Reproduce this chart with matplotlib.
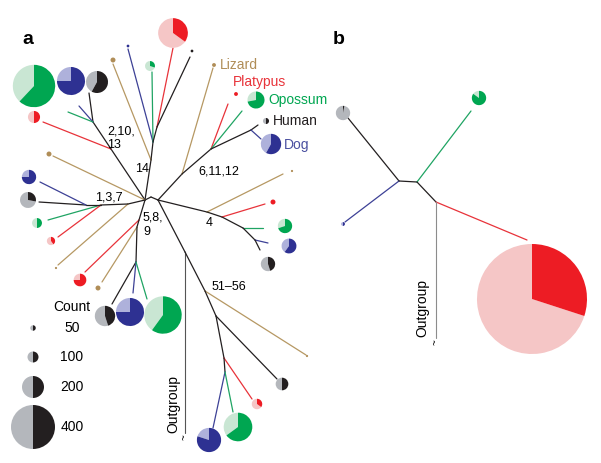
import matplotlib
matplotlib.use("Agg")
import matplotlib.pyplot as plt
from matplotlib.patches import Wedge

plt.rcParams['font.family'] = ['Liberation Sans', 'DejaVu Sans']

# ---------------- data ----------------
# species colours (dark = fraction, light = remainder)
species = ['human', 'dog', 'opossum', 'platypus', 'lizard', 'outgroup', 'internal']
dark_col = {'human': '#231f20', 'dog': '#2e3192', 'opossum': '#00a651',
            'platypus': '#ed1c24', 'lizard': '#b08d57'}
light_col = {'human': '#b4b7bc', 'dog': '#aeb1db', 'opossum': '#c9e6d3',
             'platypus': '#f5c6c6', 'lizard': '#b08d57'}
line_col = {'human': '#231f20', 'dog': '#3d4196', 'opossum': '#1fa463',
            'platypus': '#e8333a', 'lizard': '#b69863', 'outgroup': '#555555',
            'outgroup_b': '#8c8c8c', 'internal': '#231f20'}

# tree layout (node positions, pixel space of the figure)
node_names = ['C1', 'Cm', 'C2', 'N14', 'P1', 'P2', 't1', 'b1', 'g1', 'r1', 'k1',
              'N2', 'N2b', 'k2', 'b2', 'g2', 'r2', 't2',
              'N1a', 'N1b', 'N1c', 'k3', 'b3', 'g3', 'r3', 't3',
              'N5a', 'N5b', 'N5c', 'r4', 't4', 'k4', 'b4', 'g4',
              'R', 'OG', 'N51', 'N52', 'N53', 'N54', 't5', 'k5', 'r5', 'b5', 'g5',
              'N6a', 'N6b', 'N6c', 't6', 'r6', 'g6', 'k6', 'b6',
              'N4a', 'N4b', 'N4c', 'N4d', 't7', 'r7', 'g7', 'b7', 'k7',
              'B1', 'B2', 'B3', 'kb', 'bb', 'gb', 'rb', 'OGb']
node_x = [145, 151, 158, 151, 153, 157, 113, 128, 152, 173, 190,
          111, 93, 89, 79, 68, 43, 53,
          128, 101, 86, 39, 40, 48, 58, 58,
          139, 137, 136, 85, 102, 112, 133, 147,
          185, 185, 205, 216, 224, 225, 306, 277, 252, 213, 233,
          182, 211, 251, 213, 228, 242, 258, 261,
          207, 222, 243, 255, 283, 265, 263, 268, 260,
          399, 417, 436, 348, 345, 471, 527, 436]
node_y = [200, 197, 200, 160, 142, 127, 64, 49, 72, 48, 57,
          149, 122, 93, 106, 112, 122, 156,
          204, 205, 205, 202, 182, 220, 237, 265,
          220, 227, 262, 272, 282, 304, 293, 299,
          252, 433, 291, 316, 358, 372, 355, 379, 399, 428, 412,
          174, 149, 130, 68, 104, 111, 125, 139,
          212, 217, 228, 240, 174, 204, 228, 243, 250,
          181, 182, 202, 118, 222, 111, 240, 338]

edge_from = ['C1', 'Cm', 'C1', 'N14', 'N14', 'P1', 'P1', 'P1', 'P2', 'P2',
             'C1', 'N2', 'N2', 'N2b', 'N2b', 'N2b', 'C1',
             'C1', 'N1a', 'N1a', 'N1b', 'N1b', 'N1b', 'N1c', 'N1c',
             'C1', 'N5a', 'N5a', 'N5b', 'N5b', 'N5c', 'N5c', 'N5c',
             'C2', 'R', 'R', 'N51', 'N51', 'N52', 'N52', 'N53', 'N53', 'N54', 'N54',
             'C2', 'N6a', 'N6a', 'N6b', 'N6b', 'N6b', 'N6c', 'N6c',
             'C2', 'N4a', 'N4a', 'N4b', 'N4b', 'N4c', 'N4c', 'N4d', 'N4d',
             'B1', 'B1', 'B1', 'B2', 'B2', 'B3', 'B3']
edge_to = ['Cm', 'C2', 'N14', 't1', 'P1', 'b1', 'g1', 'P2', 'r1', 'k1',
           'N2', 'r2', 'N2b', 'k2', 'b2', 'g2', 't2',
           'N1a', 't3', 'N1b', 'g3', 'r3', 'N1c', 'k3', 'b3',
           'N5a', 'r4', 'N5b', 't4', 'N5c', 'k4', 'b4', 'g4',
           'R', 'OG', 'N51', 't5', 'N52', 'k5', 'N53', 'r5', 'N54', 'b5', 'g5',
           'N6a', 't6', 'N6b', 'r6', 'g6', 'N6c', 'k6', 'b6',
           'N4a', 't7', 'N4b', 'r7', 'N4c', 'g7', 'N4d', 'b7', 'k7',
           'kb', 'bb', 'B2', 'gb', 'B3', 'rb', 'OGb']
edge_kind = ['internal', 'internal', 'internal', 'lizard', 'internal', 'dog', 'opossum', 'internal', 'platypus', 'human',
             'internal', 'platypus', 'internal', 'human', 'dog', 'opossum', 'lizard',
             'internal', 'lizard', 'internal', 'opossum', 'platypus', 'internal', 'human', 'dog',
             'internal', 'platypus', 'internal', 'lizard', 'internal', 'human', 'dog', 'opossum',
             'internal', 'outgroup', 'internal', 'lizard', 'internal', 'human', 'internal', 'platypus', 'internal', 'dog', 'opossum',
             'internal', 'lizard', 'internal', 'platypus', 'opossum', 'internal', 'human', 'dog',
             'internal', 'lizard', 'internal', 'platypus', 'internal', 'opossum', 'internal', 'dog', 'human',
             'human', 'dog', 'internal', 'opossum', 'internal', 'platypus', 'outgroup_b']

# leaf pies: position, gene count, fraction of the dark colour, species
pie_x = [173, 128, 192, 113, 150, 34, 71, 97, 34, 49, 29, 28, 37, 51, 56, 80, 98,
         105, 130, 163, 256, 266, 271, 236, 214, 292, 273, 285, 289, 268, 307,
         282, 257, 209, 238,
         343, 479, 343, 532]
pie_y = [33, 46, 51, 60, 66, 86, 81, 82, 117, 154, 177, 200, 223, 241, 268, 280, 288,
         316, 312, 315, 100, 121, 144, 94, 65, 171, 202, 226, 246, 264, 356,
         384, 404, 440, 427,
         113, 98, 224, 299]
pie_count = [270, 25, 25, 45, 90, 385, 255, 200, 110, 45, 130, 145, 90, 75, 20, 115, 45,
             185, 255, 340, 155, 55, 185, 35, 35, 20, 45, 130, 135, 130, 20,
             115, 95, 220, 260,
             130, 130, 35, 1000]
pie_frac = [0.35, 1, 1, 1, 0.3, 0.62, 0.75, 0.58, 0.5, 1, 0.75, 0.28, 0.5, 0.4, 1, 0.75, 1,
            0.45, 0.75, 0.6, 0.72, 0.5, 0.58, 1, 1, 1, 1, 0.7, 0.6, 0.45, 1,
            0.5, 0.35, 0.8, 0.65,
            0.03, 0.85, 0.5, 0.3]
pie_species = ['platypus', 'dog', 'human', 'lizard', 'opossum', 'opossum', 'dog', 'human',
               'platypus', 'lizard', 'dog', 'human', 'opossum', 'platypus', 'lizard',
               'platypus', 'lizard', 'human', 'dog', 'opossum', 'opossum', 'human', 'dog',
               'platypus', 'lizard', 'lizard', 'platypus', 'opossum', 'dog', 'human',
               'lizard', 'human', 'platypus', 'dog', 'opossum',
               'human', 'opossum', 'dog', 'platypus']
radius_per_count = 0.055

# legend
legend_counts = [50, 100, 200, 400]
legend_y = [328, 357, 387, 427]
legend_x = 33

# species labels
sp_labels = ['Lizard', 'Platypus', 'Opossum', 'Human', 'Dog']
sp_label_x = [220, 233, 268, 273, 284]
sp_label_y = [65, 82, 100, 121, 145]
sp_label_col = ['#b08d57', '#e8333a', '#00a651', '#231f20', '#4a50a0']

# node labels
nl_text = ['2,10,', '13', '14', '1,3,7', '5,8,', '9', '6,11,12', '4', '51\u201356']
nl_x = [107, 107, 135, 95, 143, 143, 198, 206, 212]
nl_y = [131, 145, 169, 197, 218, 232, 171, 223, 287]

# ---------------- drawing ----------------
fig = plt.figure(figsize=(6.01, 4.63), dpi=100)
ax = fig.add_axes([0, 0, 1, 1])
ax.set_xlim(0, 601)
ax.set_ylim(463, 0)
ax.axis('off')

pos = {n: (x, y) for n, x, y in zip(node_names, node_x, node_y)}
for a, b, k in zip(edge_from, edge_to, edge_kind):
    (x0, y0), (x1, y1) = pos[a], pos[b]
    lw = 0.9 if not k.startswith('outgroup') else 0.8
    ax.plot([x0, x1], [y0, y1], color=line_col[k], lw=lw,
            solid_capstyle='round', zorder=1)


def draw_pie(x, y, r, frac, sp):
    t0 = 270
    t1 = 270 + 360 * frac
    if frac < 1:
        ax.add_patch(Wedge((x, y), r, t1, 270 + 360, facecolor=light_col[sp],
                           edgecolor='none', zorder=3))
    ax.add_patch(Wedge((x, y), r, t0, t1, facecolor=dark_col[sp],
                       edgecolor='none', zorder=3))


for x, y, c, f, s in zip(pie_x, pie_y, pie_count, pie_frac, pie_species):
    draw_pie(x, y, c * radius_per_count, f, s)

# legend
ax.text(72, 307, 'Count', fontsize=10, ha='center', va='center')
for c, y in zip(legend_counts, legend_y):
    draw_pie(legend_x, y, c * radius_per_count, 0.5, 'human')
    ax.text(72, y, str(c), fontsize=10, ha='center', va='center')

for t, x, y, col in zip(sp_labels, sp_label_x, sp_label_y, sp_label_col):
    ax.text(x, y, t, fontsize=10, color=col, ha='left', va='center')

for t, x, y in zip(nl_text, nl_x, nl_y):
    ax.text(x, y, t, fontsize=9, ha='left', va='center')

# outgroup labels
ax.text(173, 404, 'Outgroup', fontsize=10, rotation=90, ha='center', va='center')
ax.text(185, 437, '~', fontsize=7, ha='center', va='center', rotation=90)
ax.text(422, 308, 'Outgroup', fontsize=10, rotation=90, ha='center', va='center')
ax.text(436, 342, '~', fontsize=7, ha='center', va='center', rotation=90)

# panel letters
ax.text(22, 40, 'a', fontsize=14, fontweight='bold', ha='left', va='center')
ax.text(333, 39, 'b', fontsize=14, fontweight='bold', ha='left', va='center')

fig.savefig('out.png', dpi=100)
